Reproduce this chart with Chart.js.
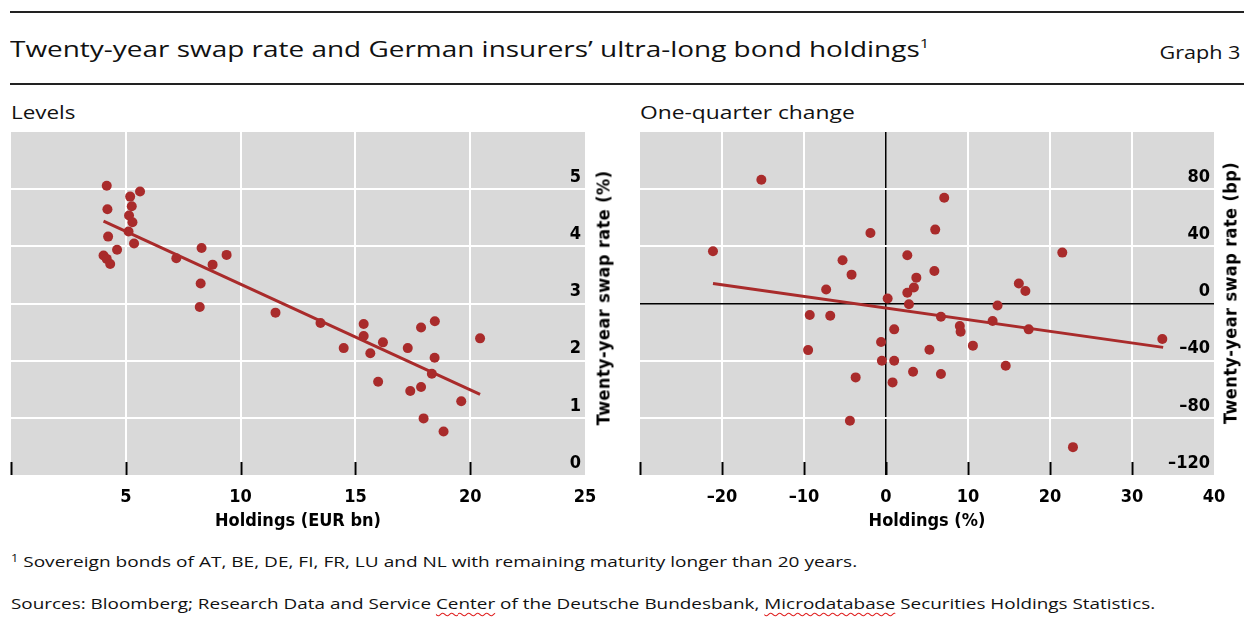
<!DOCTYPE html>
<html>
<head>
<meta charset="utf-8">
<script src="https://cdn.jsdelivr.net/npm/chart.js@4.4.1/dist/chart.umd.min.js"></script>
<style>
  body { margin: 0; background: #fff; }
  #page { position: relative; width: 1244px; height: 626px; overflow: hidden; font-family: "Open Sans", "Noto Sans", sans-serif; color: #111; }
  .rule { position: absolute; left: 10px; right: 0; height: 2px; background: #222; }
  .txt { position: absolute; white-space: nowrap; line-height: 1; transform-origin: 0 50%; }
  .ytitle { position: absolute; white-space: nowrap; font-family: "DejaVu Sans Condensed", "DejaVu Sans", sans-serif; font-weight: bold; font-size: 18px; letter-spacing: 0.4px; color: #000; transform: translate(-50%, -50%) rotate(-90deg); }
  canvas { position: absolute; }
  .spell { text-decoration: underline wavy #e02020; text-decoration-thickness: 1px; text-underline-offset: 3px; }
</style>
</head>
<body>
<div id="page">
  <div class="rule" style="top:11px"></div>
  <div class="txt" style="left:10px; top:37px; font-size:22px; transform:scaleX(1.27)">Twenty-year swap rate and German insurers’ ultra-long bond holdings<sup style="font-size:13px; vertical-align:9px">1</sup></div>
  <div class="txt" style="right:4px; top:43px; font-size:18px; transform-origin:100% 50%; transform:scaleX(1.2)">Graph 3</div>
  <div class="rule" style="top:83px"></div>
  <div class="txt" style="left:11px; top:103px; font-size:19px; transform:scaleX(1.18)">Levels</div>
  <div class="txt" style="left:640px; top:103px; font-size:19px; transform:scaleX(1.2)">One-quarter change</div>

  <canvas id="levels" width="640" height="420" style="left:0; top:125px"></canvas>
  <canvas id="change" width="614" height="420" style="left:630px; top:125px"></canvas>
  <div class="ytitle" style="left:603px; top:298px">Twenty-year swap rate (%)</div>
  <div class="ytitle" style="left:1230px; top:293px">Twenty-year swap rate (bp)</div>

  <div class="txt" style="left:11px; top:553px; font-size:15px; transform:scaleX(1.27)"><sup style="font-size:10px; vertical-align:5px">1</sup> Sovereign bonds of AT, BE, DE, FI, FR, LU and NL with remaining maturity longer than 20 years.</div>
  <div class="txt" style="left:11px; top:596px; font-size:15px; transform:scaleX(1.26)">Sources: Bloomberg; Research Data and Service <span class="spell">Center</span> of the Deutsche Bundesbank, <span class="spell">Microdatabase</span> Securities Holdings Statistics.</div>
</div>
<script>
// Levels panel: holdings (EUR bn) vs twenty-year swap rate (%)
const levelHoldings = [4.17, 5.62, 5.19, 4.20, 5.26, 5.14, 5.29, 4.23, 5.12, 5.36, 4.62, 4.03, 4.17, 4.32,
  7.20, 8.30, 9.39, 8.78, 8.26, 8.22, 11.52, 13.48, 14.49, 15.36, 15.36, 15.65, 16.20, 17.28, 17.86,
  18.46, 18.45, 18.33, 20.43, 15.99, 17.39, 17.86, 19.61, 17.97, 18.84];
const levelSwap = [5.06, 4.96, 4.87, 4.65, 4.70, 4.54, 4.42, 4.17, 4.26, 4.05, 3.94, 3.84, 3.78, 3.69,
  3.79, 3.97, 3.85, 3.68, 3.35, 2.94, 2.84, 2.66, 2.22, 2.64, 2.43, 2.13, 2.32, 2.22, 2.58,
  2.69, 2.05, 1.77, 2.39, 1.63, 1.47, 1.54, 1.29, 0.99, 0.76];
const levelTrendX = [4.03, 20.43];
const levelTrendY = [4.44, 1.41];
const levelXTicks = [0, 25, 5];   // min, max, step
const levelYTicks = [0, 6, 1];

// One-quarter change panel: holdings (%) vs twenty-year swap rate (bp)
const changeHoldings = [-15.2, -1.9, -21.1, 2.6, -5.3, -4.2, 3.7, 3.4, 2.6, -7.3, 0.2, 2.8, -9.3, -6.8,
  1.0, -0.6, -9.5, -0.5, 1.0, -3.7, 3.3, 0.8, -4.4, 5.3, 7.1, 6.0, 5.9, 21.5, 16.2, 17.0,
  13.6, 6.7, 9.0, 9.1, 13.0, 17.4, 33.7, 10.6, 6.7, 14.6, 22.8];
const changeSwap = [86.6, 49.3, 36.5, 33.7, 30.2, 20.2, 18.1, 11.2, 7.5, 9.8, 3.5, -0.5, -8.1, -8.6,
  -18.1, -27.0, -32.6, -40.0, -40.0, -51.7, -47.7, -55.2, -82.1, -32.4, 74.0, 51.7, 22.8, 35.6, 14.0, 8.8,
  -1.4, -9.3, -15.8, -19.8, -12.3, -18.1, -24.9, -29.5, -49.3, -43.5, -100.5];
const changeTrendX = [-21.1, 33.8];
const changeTrendY = [14.0, -30.7];
const changeXTicks = [-30, 40, 10];
const changeYTicks = [-120, 120, 40];

const RED = '#a92b2b';
const PANEL = '#d9d9d9';
const tickFont = { family: '"DejaVu Sans Condensed", "DejaVu Sans", sans-serif', size: 18, weight: 'bold' };

const fmt = (v) => (v < 0 ? '\u2013' + Math.abs(v) : String(v));

const panelBackground = {
  id: 'panelBackground',
  beforeDraw(chart) {
    const { ctx, chartArea: a } = chart;
    ctx.save();
    ctx.fillStyle = PANEL;
    ctx.fillRect(a.left, a.top, a.right - a.left, a.bottom - a.top);
    ctx.restore();
  }
};

// short black tick marks standing up from the bottom edge, inside the panel
const innerTicks = {
  id: 'innerTicks',
  afterDatasetsDraw(chart) {
    const { ctx, chartArea: a, scales: { x } } = chart;
    ctx.save();
    ctx.strokeStyle = '#000';
    ctx.lineWidth = 2;
    x.ticks.forEach((t) => {
      if (t.value === x.max) return;
      const px = Math.round(x.getPixelForValue(t.value)) + 0.5;
      ctx.beginPath();
      ctx.moveTo(px, a.bottom);
      ctx.lineTo(px, a.bottom - 13);
      ctx.stroke();
    });
    ctx.restore();
  }
};

function gridColor(scaleTicks, zeroLine) {
  return (c) => {
    const v = c.tick.value;
    if (v === scaleTicks[0] || v === scaleTicks[1]) return 'rgba(0,0,0,0)';
    if (zeroLine && v === 0) return '#000';
    return '#fff';
  };
}

function makeChart(id, xs, ys, trendX, trendY, xTicks, yTicks, xTitle, zeroLine, pad) {
  const ctx = document.getElementById(id).getContext('2d');
  return new Chart(ctx, {
    type: 'scatter',
    data: {
      datasets: [
        {
          data: trendX.map((x, i) => ({ x: x, y: trendY[i] })),
          showLine: true,
          borderColor: RED,
          borderWidth: 3,
          pointRadius: 0
        },
        {
          data: xs.map((x, i) => ({ x: x, y: ys[i] })),
          backgroundColor: RED,
          borderColor: RED,
          borderWidth: 0,
          pointRadius: 5
        }
      ]
    },
    options: {
      responsive: false,
      animation: false,
      layout: { padding: pad },
      plugins: { legend: { display: false }, tooltip: { enabled: false } },
      scales: {
        x: {
          type: 'linear',
          position: 'bottom',
          min: xTicks[0],
          max: xTicks[1],
          border: { display: false },
          grid: {
            drawTicks: false,
            color: gridColor(xTicks, zeroLine),
            lineWidth: (c) => (zeroLine && c.tick.value === 0 ? 1.5 : 2)
          },
          ticks: {
            stepSize: xTicks[2],
            padding: 12,
            color: '#000',
            font: tickFont,
            maxRotation: 0,
            callback: (v) => (v === xTicks[0] ? '' : fmt(v))
          },
          title: { display: true, text: xTitle, color: '#000', font: tickFont, padding: { top: 0, bottom: 13 } },
          afterFit: (s) => { s.height = 70; s.paddingLeft = 0; s.paddingRight = 0; }
        },
        y: {
          type: 'linear',
          position: 'right',
          min: yTicks[0],
          max: yTicks[1],
          border: { display: false },
          grid: {
            drawTicks: false,
            color: gridColor(yTicks, zeroLine),
            lineWidth: (c) => (zeroLine && c.tick.value === 0 ? 1.5 : 2)
          },
          ticks: {
            stepSize: yTicks[2],
            mirror: true,
            padding: -4,
            labelOffset: -12,
            color: '#000',
            font: tickFont,
            callback: (v) => (v === yTicks[1] ? '' : fmt(v))
          },
          afterFit: (s) => { s.width = 0; s.paddingTop = 0; s.paddingBottom = 0; }
        }
      }
    },
    plugins: [panelBackground, innerTicks]
  });
}

makeChart('levels', levelHoldings, levelSwap, levelTrendX, levelTrendY, levelXTicks, levelYTicks,
  'Holdings (EUR bn)', false, { left: 11, top: 7, right: 55, bottom: 0 });
makeChart('change', changeHoldings, changeSwap, changeTrendX, changeTrendY, changeXTicks, changeYTicks,
  'Holdings (%)', true, { left: 10, top: 7, right: 30, bottom: 0 });
</script>
</body>
</html>
